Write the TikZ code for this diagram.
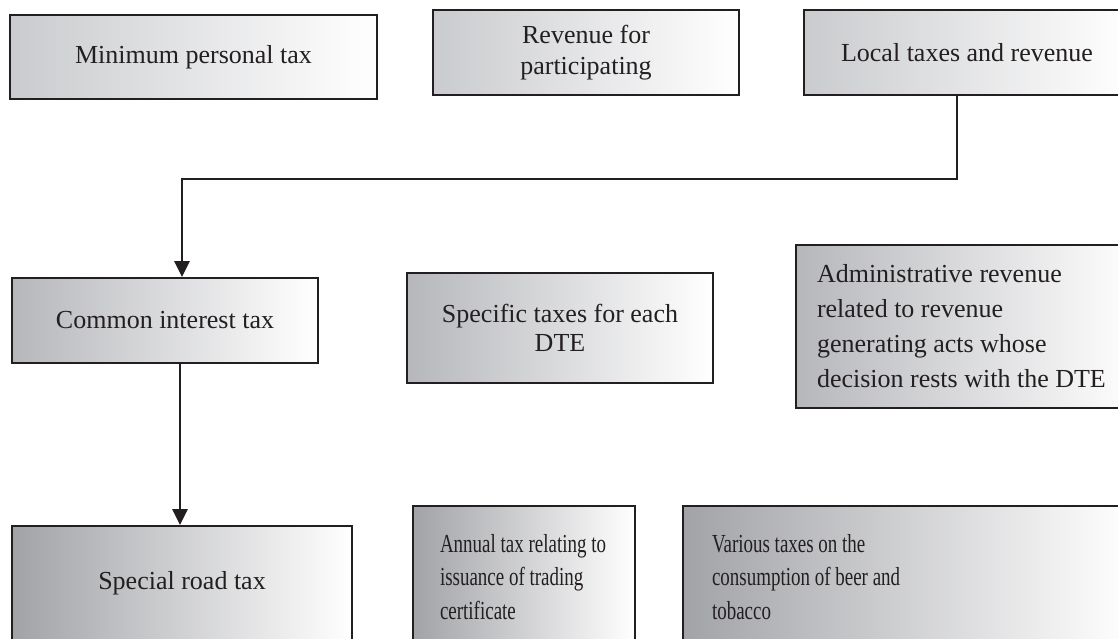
\documentclass[tikz,border=0pt]{standalone}
\usepackage{fontspec}
\setmainfont{Liberation Serif}
\newfontfamily\condensedfont[FakeStretch=0.73]{Liberation Serif}
\usetikzlibrary{arrows.meta}
\definecolor{ink}{HTML}{231F20}
\definecolor{topL}{HTML}{CACBCE}
\definecolor{topM}{HTML}{E0E1E3}
\definecolor{midL}{HTML}{B6B7BB}
\definecolor{midM}{HTML}{DADBDE}
\definecolor{botL}{HTML}{A2A3A7}
\definecolor{botM}{HTML}{D2D3D6}
\tikzset{
  box/.style={draw=ink, line width=1.8pt, text=ink, inner sep=0pt,
    font=\fontsize{26}{31}\selectfont, shading=axis, shading angle=90},
  toprow/.style={box, left color=topL, middle color=topM, right color=white},
  midrow/.style={box, left color=midL, middle color=midM, right color=white},
  botrow/.style={box, left color=botL, middle color=botM, right color=white},
  link/.style={draw=ink, line width=2.6pt},
  arrowlink/.style={link, -{Triangle[width=15pt,length=16pt]}},
}
\begin{document}
\begin{tikzpicture}[x=1pt,y=1pt]
\useasboundingbox (0,0) rectangle (1118,-638);
\clip (0,0) rectangle (1118,-638);
% top row
\node[toprow, minimum width=367pt, minimum height=84pt] (min) at (193.5,-57) {Minimum personal tax};
\node[toprow, minimum width=306pt, minimum height=85pt, align=center, font=\fontsize{26}{31}\selectfont] (rev) at (586,-52.5) {Revenue for\\participating};
\node[toprow, minimum width=326pt, minimum height=85pt] (loc) at (967,-52.5) {Local taxes and revenue};
% middle row
\node[midrow, minimum width=306pt, minimum height=85pt] (cit) at (165,-320.5) {Common interest tax};
\node[midrow, minimum width=306pt, minimum height=110pt, align=center, font=\fontsize{26}{29}\selectfont] (spec) at (560,-328) {Specific taxes for each\\DTE};
\node[midrow, minimum height=163pt, inner xsep=21pt, text width=300pt, align=flush left, font=\fontsize{26}{35}\selectfont] (adm) at (967,-326.5) {\mbox{Administrative revenue}\\\mbox{related to revenue}\\\mbox{generating acts whose}\\\mbox{decision rests with the DTE}};
% bottom row
\node[botrow, minimum width=340pt, minimum height=114pt] (road) at (182,-583) {Special road tax};
\node[botrow, minimum height=142pt, inner xsep=27pt, text width=168pt, align=flush left, font=\condensedfont\fontsize{26}{33.5}\selectfont] (ann) at (524,-577) {\mbox{Annual tax relating to}\\\mbox{issuance of trading}\\\mbox{certificate}};
\node[botrow, minimum height=142pt, inner xsep=29pt, text width=389pt, align=flush left, font=\condensedfont\fontsize{26}{33.5}\selectfont] (var) at (906.5,-577) {\mbox{Various taxes on the}\\\mbox{consumption of beer and}\\\mbox{tobacco}};
% connectors
\draw[arrowlink] ([xshift=-10pt]loc.south) -- ++(0,-83) -| ([xshift=17pt]cit.north);
\draw[arrowlink] ([xshift=15pt]cit.south) -- ([xshift=15pt]cit.south |- road.north);
\end{tikzpicture}
\end{document}
